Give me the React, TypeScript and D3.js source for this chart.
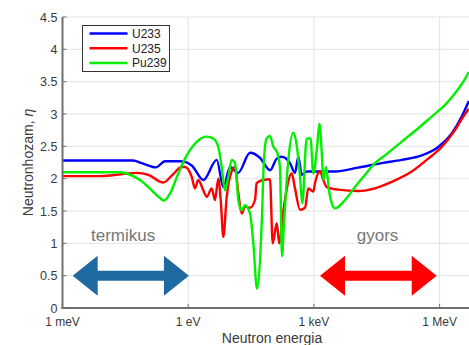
import React from "react";
import * as d3 from "d3";

// Energies in eV, neutron yield values (eta)
const u233E = [1e-3, 0.048, 0.078, 0.17, 0.28, 0.64, 0.84, 1.23, 2.3, 4.8, 6.9, 10, 15.5, 30, 52, 90, 130, 171, 269, 354, 425, 512, 673, 1060, 3190, 11300, 41500, 124000, 374000, 931000, 1.95e6, 3.37e6, 5.0e6];
const u233V = [2.28, 2.28, 2.24, 2.175, 2.27, 2.27, 2.26, 2.2, 1.98, 2.29, 1.87, 2.18, 2.09, 2.4, 2.32, 2.13, 2.31, 2.34, 2.24, 2.09, 2.34, 2.06, 2.11, 2.11, 2.11, 2.17, 2.24, 2.29, 2.36, 2.49, 2.7, 2.96, 3.2];

const u235E = [1e-3, 0.00785, 0.059, 0.112, 0.255, 0.41, 0.7, 0.84, 1.21, 1.45, 1.74, 2.29, 2.77, 3.64, 4.36, 5.23, 5.97, 6.89, 8.3, 9.96, 13.1, 15.7, 18.9, 22.7, 29.9, 39.3, 43, 62, 89.5, 104, 130, 149, 186, 295, 354, 466, 614, 735, 968, 1060, 1400, 1680, 2020, 3820, 11500, 28700, 71900, 216000, 537000, 1.12e6, 2.33e6, 3.68e6, 5.0e6];
const u235V = [2.04, 2.04, 2.09, 2.06, 1.94, 2.05, 2.18, 2.18, 2.03, 1.85, 1.98, 1.82, 1.72, 1.85, 1.67, 2.0, 1.67, 1.1, 1.72, 2.03, 2.18, 1.78, 1.46, 1.57, 1.55, 1.67, 1.93, 1.98, 1.99, 1.0, 1.31, 1.0, 1.5, 2.08, 1.85, 1.52, 1.55, 1.85, 1.8, 1.93, 2.11, 1.98, 1.87, 1.83, 1.81, 1.85, 1.95, 2.11, 2.31, 2.49, 2.75, 2.96, 3.08];

const pu239E = [1e-3, 0.0236, 0.034, 0.0708, 0.135, 0.212, 0.264, 0.368, 0.58, 0.84, 1.1, 1.6, 2.77, 3.97, 5.23, 6.3, 7.55, 9.06, 10.9, 13.1, 15.7, 18.9, 22.7, 29.9, 35.8, 43.9, 56.8, 64.4, 74, 89.5, 107, 135, 155, 173, 193, 245, 322, 388, 466, 528, 673, 830, 968, 1170, 1360, 1540, 1680, 1950, 2290, 2660, 3190, 5530, 9570, 16600, 28700, 49800, 124000, 310000, 647000, 1.35e6, 2.33e6, 3.68e6, 5.0e6];
const pu239V = [2.1, 2.1, 2.08, 1.98, 1.82, 1.7, 1.66, 1.77, 2.08, 2.31, 2.44, 2.57, 2.65, 2.62, 2.49, 2.18, 1.82, 2.03, 2.29, 2.24, 1.67, 1.51, 1.59, 1.46, 1.0, 0.3, 1.31, 2.3, 2.62, 2.66, 2.5, 2.39, 2.18, 0.8, 1.3, 2.29, 2.71, 2.52, 2.03, 1.62, 2.62, 2.62, 2.08, 2.44, 2.85, 2.4, 1.98, 2.18, 1.82, 1.62, 1.54, 1.67, 1.87, 2.06, 2.24, 2.36, 2.57, 2.78, 2.96, 3.14, 3.32, 3.5, 3.65];

const seriesNames = ["U233", "U235", "Pu239"];
const seriesColors = ["#0000ff", "#ff0000", "#00f000"];

const xTicks = [1e-3, 1, 1e3, 1e6];
const xTickLabels = ["1 meV", "1 eV", "1 keV", "1 MeV"];
const yTicks = [0, 0.5, 1, 1.5, 2, 2.5, 3, 3.5, 4, 4.5];

const regionLabels = ["termikus", "gyors"];
const regionLabelE = [0.028, 33000];
const arrowFrom = [1.75e-3, 1400];
const arrowTo = [1.04, 853000];
const arrowColors = ["#1f6aa0", "#ff0000"];
const arrowY = 0.5;
const labelY = 1.05;

export default function App() {
  const W = 469, H = 345;
  const left = 62.5, right = 481.5, top = 17, bottom = 308;
  const x = d3.scaleLog().domain([1e-3, 1e7]).range([left, right]);
  const y = d3.scaleLinear().domain([0, 4.5]).range([bottom, top]);
  const font = "'Liberation Sans', Arial, Helvetica, sans-serif";

  const data = [
    [u233E, u233V],
    [u235E, u235V],
    [pu239E, pu239V],
  ];
  const line = d3
    .line<[number, number]>()
    .x((d) => x(d[0]))
    .y((d) => y(d[1]))
    .curve(d3.curveMonotoneX);

  const arrowPath = (x0: number, x1: number, yc: number) => {
    const hl = 25, hh = 20, sh = 5;
    const p = d3.path();
    p.moveTo(x0, yc);
    p.lineTo(x0 + hl, yc - hh);
    p.lineTo(x0 + hl, yc - sh);
    p.lineTo(x1 - hl, yc - sh);
    p.lineTo(x1 - hl, yc - hh);
    p.lineTo(x1, yc);
    p.lineTo(x1 - hl, yc + hh);
    p.lineTo(x1 - hl, yc + sh);
    p.lineTo(x0 + hl, yc + sh);
    p.lineTo(x0 + hl, yc + hh);
    p.closePath();
    return p.toString();
  };

  return (
    <svg width={W} height={H} style={{ position: "absolute", left: 0, top: 0, background: "#fff" }} fontFamily={font}>
      <defs>
        <clipPath id="plot">
          <rect x={left} y={top - 2} width={right - left} height={bottom - top + 2} />
        </clipPath>
      </defs>
      {/* grid */}
      {yTicks.map((t) => (
        <line key={"gy" + t} x1={left} x2={W} y1={y(t)} y2={y(t)} stroke="#e3e3e3" strokeWidth={1} />
      ))}
      {xTicks.map((t) => (
        <line key={"gx" + t} x1={x(t)} x2={x(t)} y1={top} y2={bottom} stroke="#e3e3e3" strokeWidth={1} />
      ))}
      {/* region labels */}
      {regionLabels.map((s, i) => (
        <text key={s} x={x(regionLabelE[i])} y={y(labelY) + 1} fontSize={17} fill="#777" textAnchor="middle">
          {s}
        </text>
      ))}
      {/* arrows */}
      {arrowFrom.map((e, i) => (
        <path key={"a" + i} d={arrowPath(x(e), x(arrowTo[i]), y(arrowY))} fill={arrowColors[i]} />
      ))}
      {/* curves */}
      <g clipPath="url(#plot)">
        {data.map(([es, vs], i) => (
          <path
            key={seriesNames[i]}
            d={line(es.map((e, j) => [e, vs[j]] as [number, number])) || ""}
            fill="none"
            stroke={seriesColors[i]}
            strokeWidth={2.4}
            strokeLinejoin="round"
          />
        ))}
      </g>
      {/* axes */}
      <line x1={left} x2={left} y1={top} y2={bottom + 1} stroke="#707070" strokeWidth={2} />
      <line x1={left - 1} x2={W} y1={bottom} y2={bottom} stroke="#707070" strokeWidth={2} />
      {yTicks.map((t) => (
        <g key={"yt" + t}>
          <line x1={left} x2={left + 4} y1={y(t)} y2={y(t)} stroke="#707070" strokeWidth={1} />
          <text x={left - 5} y={y(t) + 4.5} fontSize={12.5} fill="#3a3a3a" textAnchor="end">
            {t}
          </text>
        </g>
      ))}
      {xTicks.map((t, i) => (
        <g key={"xt" + t}>
          <line x1={x(t)} x2={x(t)} y1={bottom} y2={bottom - 4} stroke="#707070" strokeWidth={1} />
          <text x={x(t)} y={326} fontSize={12} fill="#3a3a3a" textAnchor="middle">
            {xTickLabels[i]}
          </text>
        </g>
      ))}
      <text x={(left + right) / 2} y={343} fontSize={14} fill="#3a3a3a" textAnchor="middle">
        Neutron energia
      </text>
      <text
        transform={`translate(33, ${(top + bottom) / 2}) rotate(-90)`}
        fontSize={14}
        fill="#3a3a3a"
        textAnchor="middle"
      >
        Neutronhozam, <tspan fontStyle="italic">η</tspan>
      </text>
      {/* legend */}
      <rect x={82.5} y={25.5} width={87} height={46} fill="#fff" stroke="#333" strokeWidth={1} />
      {seriesNames.map((s, i) => (
        <g key={"lg" + s}>
          <line x1={89.5} x2={127.5} y1={33.5 + i * 14.7} y2={33.5 + i * 14.7} stroke={seriesColors[i]} strokeWidth={2.5} />
          <text x={132} y={33.5 + i * 14.7 + 4.3} fontSize={12} fill="#222">
            {s}
          </text>
        </g>
      ))}
    </svg>
  );
}
